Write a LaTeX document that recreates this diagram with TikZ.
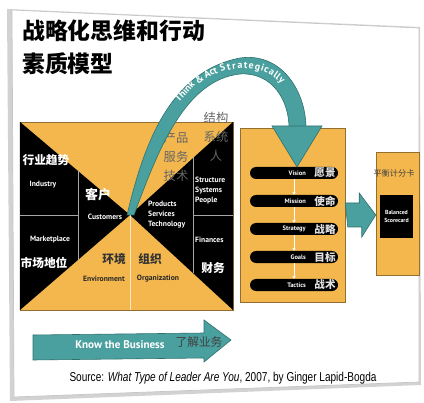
\documentclass[tikz,border=0pt]{standalone}
\usepackage{fontspec}
\setmainfont{Liberation Sans}
\newfontfamily\cjk{Noto Sans CJK SC}
\newfontfamily\labfont{PT Sans}
\usetikzlibrary{shapes,arrows.meta,positioning,calc}
\definecolor{ochre}{RGB}{243,183,78}
\definecolor{tealc}{RGB}{74,160,158}
\definecolor{tealdk}{RGB}{46,112,110}

\begin{document}
\begin{tikzpicture}[x=0.03cm, y=-0.03cm]
    % Stili
    \tikzset{
        zh/.style={font=\cjk\bfseries\fontsize{10}{12}\selectfont, inner sep=0pt, align=center},
        en/.style={font=\labfont\bfseries\fontsize{6.5}{8}\selectfont, inner sep=0pt, align=left},
        ybox/.style={rectangle, fill=ochre, draw=ochre!60!black, line width=0.4pt, inner sep=0pt},
        bar/.style={rectangle, rounded corners=0.18cm, fill=black, minimum width=2.64cm, minimum height=0.36cm, inner sep=0pt},
        flow/.style={fill=tealc, draw=tealdk, line width=0.5pt},
        divider/.style={gray!70, line width=0.6pt},
        arctext/.style={font=\labfont\bfseries\fontsize{8.5}{9}\selectfont, text=white, inner sep=0pt, text height=6pt, text depth=1.8pt, sloped}
    }
    \useasboundingbox (0,0) rectangle (424,403);

    % Cartoncino
    \fill[gray!35] (7,9) -- (420,27) -- (421,385) -- (10,401) -- cycle;
    \draw[gray!45, line width=0.6pt, fill=white] (12,10) -- (419,28) -- (419,382) -- (14,397) -- cycle;

    % Titolo
    \node[zh, font=\cjk\bfseries\fontsize{19.5}{22}\selectfont, anchor=west] (title1) at (22,31) {战略化思维和行动};
    \node[zh, font=\cjk\bfseries\fontsize{19.5}{22}\selectfont, anchor=west] (title2) at (22,64) {素质模型};

    % Box a sinistra con la X
    \node[ybox, minimum width=6.39cm, minimum height=5.64cm] (biz) at (126.5,216) {};
    \coordinate (xc) at (130,215);
    \fill[black] (biz.north west) -- (xc) -- (biz.south west) -- cycle;
    \fill[black] (biz.north east) -- (xc) -- (biz.south east) -- cycle;
    \draw[divider] (78,170) -- (78,260) (biz.west |- xc) -- (78,215);
    \draw[divider] (193,157) -- (193,273) (193,215) -- (biz.east |- xc);
    \draw[white!70!ochre, line width=0.6pt] (xc) -- (xc |- biz.south);

    % Testi della X
    \node[zh, text=white] (trend) at (46,160) {行业趋势};
    \node[en, text=white] (industry) at (43,185) {Industry};
    \node[zh, text=white, font=\cjk\bfseries\fontsize{11}{12}\selectfont] (cust) at (98,195) {客户};
    \node[en, text=white] (customers) at (105,217) {Customers};
    \node[en, text=white] (market) at (50,240) {Marketplace};
    \node[zh, text=white] (position) at (44,263) {市场地位};
    \node[zh, text=black!80] (env) at (114,259) {环境};
    \node[en, text=black!85] (environment) at (104,279) {Environment};
    \node[zh, text=black!80] (org) at (150,259) {组织};
    \node[en, text=black!85] (organization) at (158,279) {Organization};
    \node[zh, text=black!60, font=\cjk\fontsize{10.5}{16}\selectfont] (prod) at (176,157) {产品\\服务\\技术};
    \node[en, text=white, anchor=west, font=\labfont\bfseries\fontsize{6.5}{8.5}\selectfont] (products) at (148,215) {Products\\Services\\Technology};
    \node[zh, text=black!60, font=\cjk\fontsize{10.5}{16}\selectfont] (struct) at (216,137) {结构\\系统\\人};
    \node[en, text=white, anchor=west, font=\labfont\bfseries\fontsize{6.5}{8.5}\selectfont] (structure) at (195,191) {Structure\\Systems\\People};
    \node[en, text=white, anchor=west] (finances) at (195,240) {Finances};
    \node[zh, text=white] (fin) at (213,268) {财务};

    % Box centrale
    \node[ybox, minimum width=3.15cm, minimum height=5.22cm] (vmbox) at (292.5,215) {};
    \foreach \y/\lbl/\cn [count=\i] in {173/Vision/愿景, 201/Mission/使命, 229/Strategy/战略, 257/Goals/目标, 285/Tactics/战术} {
        \node[bar] (b\i) at (294,\y) {};
        \node[en, text=white, anchor=east, font=\labfont\bfseries\fontsize{5.5}{6}\selectfont] (e\i) at (306,\y) {\lbl};
        \node[zh, text=white!88!black, font=\cjk\bfseries\fontsize{9}{10}\selectfont] (z\i) at (325,\y) {\cn};
    }
    \foreach \i/\j in {1/2,2/3,3/4,4/5} {
        \draw[white, line width=0.8pt, -{Stealth[length=2.5pt,width=3pt]}] (b\i.south) -- (b\j.north);
    }

    % Balanced scorecard
    \node[ybox, minimum width=1.29cm, minimum height=3.69cm] (bsc) at (397.5,214) {};
    \node[zh, text=black!75, font=\cjk\fontsize{7}{8}\selectfont] (bsclbl) at (394,173) {平衡计分卡};
    \node[fill=black, minimum width=0.99cm, minimum height=1.29cm, text=white, inner sep=0pt, align=center, font=\labfont\bfseries\fontsize{5}{7.5}\selectfont] (card) at (396.5,216.5) {Balanced\\Scorecard};

    % Freccia curva
    \draw[flow] (127,215) .. controls (143,148) and (168,72) .. (240,58) .. controls (282,52) and (306,92) .. (306,128)
        -- (289,128) .. controls (289,100) and (272,72) .. (240,74) .. controls (185,80) and (158,150) .. (134,215) -- cycle;
    \coordinate (tip) at (297,167);
    \fill[flow] (272,126) -- (322,126) -- (tip) -- cycle;
    \path (165,125) .. controls (193,52) and (282,48) .. (295,105)
        node[arctext, pos=0.18] (think) {Think}
        node[arctext, pos=0.28] (amp) {\&}
        node[arctext, pos=0.35] (act) {Act}
        foreach \ch/\p in {S/0.422, t/0.459, r/0.490, a/0.527, t/0.562, e/0.597, g/0.639, i/0.671, c/0.699, a/0.737, l/0.768, l/0.789, y/0.820} {
            node[arctext, pos=\p] {\ch}
        };

    % Freccia tra i box
    \fill[flow] (vmbox.east) ++(0,-12) -- ++(14,0) -- ++(0,-10) -- ($(bsc.west)+(0,1)$) -- ++(-14,22) -- ++(0,-10) -- ++(-14,0) -- cycle;

    % Know the business
    \fill[flow] (33,335) -- (204,333) -- (204,320) -- (231,340) -- (204,362) -- (204,358) -- (33,360) -- cycle;
    \node[en, text=white, font=\labfont\bfseries\fontsize{9.5}{10}\selectfont] (know) at (120,345) {Know the Business};
    \node[zh, text=black!75, font=\cjk\fontsize{10}{11}\selectfont] (learn) at (199,342) {了解业务};

    % Fonte
    \node[inner sep=0pt] (src) at (223,378) {\scalebox{0.78}[1]{\fontsize{11}{12}\selectfont Source: \textit{What Type of Leader Are You}, 2007, by Ginger Lapid-Bogda}};
\end{tikzpicture}
\end{document}
